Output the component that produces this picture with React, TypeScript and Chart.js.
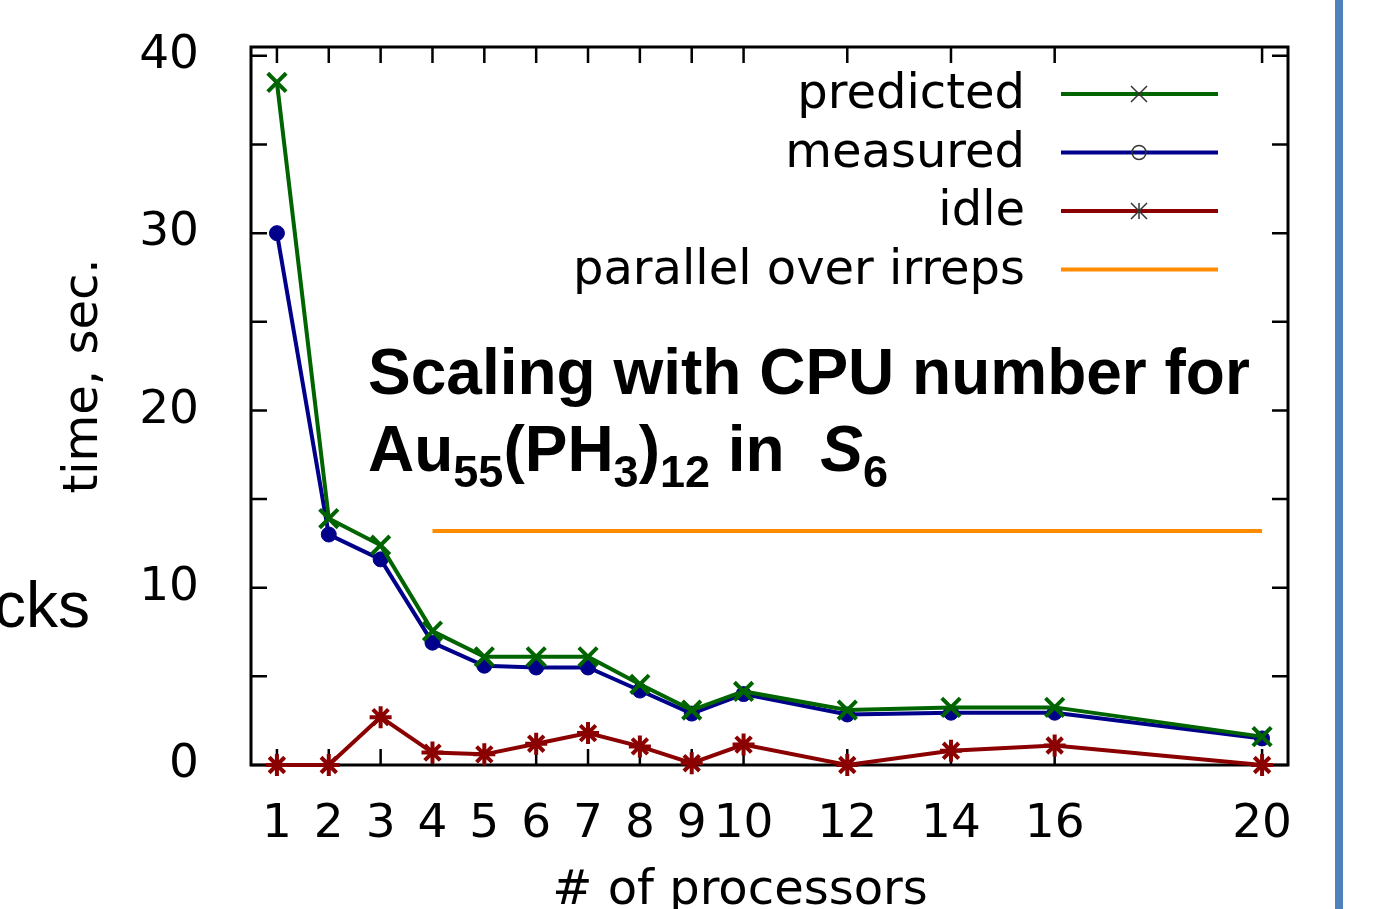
import React, { useEffect, useRef } from 'react';
import { Chart, registerables } from 'chart.js';

Chart.register(...registerables);

const processors = [1, 2, 3, 4, 5, 6, 7, 8, 9, 10, 12, 14, 16, 20];
const predicted = [38.5, 13.9, 12.4, 7.55, 6.1, 6.1, 6.1, 4.55, 3.1, 4.15, 3.1, 3.25, 3.25, 1.6];
const measured = [30.0, 13.0, 11.6, 6.9, 5.6, 5.5, 5.5, 4.2, 2.9, 4.0, 2.85, 2.95, 2.95, 1.5];
const idle = [0, 0, 2.7, 0.7, 0.6, 1.2, 1.8, 1.05, 0.1, 1.15, 0, 0.8, 1.1, 0];
const parallelX = [4, 20];
const parallelY = [13.2, 13.2];
const xTicks = [1, 2, 3, 4, 5, 6, 7, 8, 9, 10, 12, 14, 16, 20];
const yTicks = [0, 5, 10, 15, 20, 25, 30, 35, 40];
const yLabelled = [0, 10, 20, 30, 40];
const seriesNames = ['predicted', 'measured', 'idle', 'parallel over irreps'];
const seriesColors = ['#006400', '#00008b', '#8b0000', '#ff8c00'];
const legendMarkers = ['crossRot', 'circle', 'star', 'none'];
const xTitle = '# of processors';
const yTitle = 'time, sec.';

const FONT = '"DejaVu Sans", sans-serif';

const framePlugin = {
  id: 'gnuframe',
  beforeDatasetsDraw(chart: any) {
    const { ctx, chartArea: a, scales } = chart;
    ctx.save();
    ctx.strokeStyle = '#000';
    ctx.lineWidth = 2.5;
    const tl = 16;
    for (const v of xTicks) {
      const px = scales.x.getPixelForValue(v);
      ctx.beginPath();
      ctx.moveTo(px, a.bottom);
      ctx.lineTo(px, a.bottom - tl);
      ctx.moveTo(px, a.top);
      ctx.lineTo(px, a.top + tl);
      ctx.stroke();
    }
    for (const v of yTicks) {
      const py = scales.y.getPixelForValue(v);
      ctx.beginPath();
      ctx.moveTo(a.left, py);
      ctx.lineTo(a.left + tl, py);
      ctx.moveTo(a.right, py);
      ctx.lineTo(a.right - tl, py);
      ctx.stroke();
    }
    ctx.lineWidth = 3;
    ctx.strokeRect(a.left, a.top, a.right - a.left, a.bottom - a.top);
    ctx.restore();
  },
  afterDraw(chart: any) {
    const { ctx } = chart;
    ctx.save();
    ctx.fillStyle = '#000';
    ctx.font = `48px ${FONT}`;
    ctx.textAlign = 'center';
    ctx.textBaseline = 'alphabetic';
    ctx.fillText(xTitle, 740, 904);
    ctx.save();
    ctx.translate(97, 376);
    ctx.rotate(-Math.PI / 2);
    ctx.fillText(yTitle, 0, 0);
    ctx.restore();
    const textRight = 1025;
    const x0 = 1061;
    const x1 = 1218;
    const mx = 1139;
    for (let i = 0; i < seriesNames.length; i++) {
      const ly = 94 + i * 58.5;
      ctx.textAlign = 'right';
      ctx.fillStyle = '#000';
      ctx.fillText(seriesNames[i], textRight, ly + 14);
      ctx.strokeStyle = seriesColors[i];
      ctx.lineWidth = 4;
      ctx.beginPath();
      ctx.moveTo(x0, ly);
      ctx.lineTo(x1, ly);
      ctx.stroke();
      ctx.strokeStyle = '#333';
      ctx.lineWidth = 1.5;
      const m = legendMarkers[i];
      const r = 8;
      ctx.beginPath();
      if (m === 'crossRot' || m === 'star') {
        ctx.moveTo(mx - r, ly - r);
        ctx.lineTo(mx + r, ly + r);
        ctx.moveTo(mx - r, ly + r);
        ctx.lineTo(mx + r, ly - r);
      }
      if (m === 'star') {
        ctx.moveTo(mx, ly - r);
        ctx.lineTo(mx, ly + r);
      }
      if (m === 'circle') {
        ctx.arc(mx, ly, 7, 0, Math.PI * 2);
      }
      ctx.stroke();
    }
    ctx.restore();
  },
};

export default function App() {
  const ref = useRef<HTMLCanvasElement | null>(null);

  useEffect(() => {
    if (!ref.current) return;
    const pts = (ys: number[]) => processors.map((x, i) => ({ x, y: ys[i] }));
    const chart = new Chart(ref.current, {
      type: 'line',
      data: {
        datasets: [
          {
            label: seriesNames[0],
            data: pts(predicted),
            borderColor: seriesColors[0],
            backgroundColor: seriesColors[0],
            borderWidth: 4,
            pointStyle: 'crossRot',
            pointRadius: 13,
            pointBorderWidth: 4,
            pointBorderColor: seriesColors[0],
            clip: false,
          },
          {
            label: seriesNames[1],
            data: pts(measured),
            borderColor: seriesColors[1],
            backgroundColor: seriesColors[1],
            borderWidth: 4,
            pointStyle: 'circle',
            pointRadius: 7.5,
            pointBorderWidth: 1,
            pointBackgroundColor: seriesColors[1],
            pointBorderColor: seriesColors[1],
            clip: false,
          },
          {
            label: seriesNames[2],
            data: pts(idle),
            borderColor: seriesColors[2],
            backgroundColor: seriesColors[2],
            borderWidth: 4,
            pointStyle: 'star',
            pointRadius: 11,
            pointBorderWidth: 4,
            pointBorderColor: seriesColors[2],
            clip: false,
          },
          {
            label: seriesNames[3],
            data: parallelX.map((x, i) => ({ x, y: parallelY[i] })),
            borderColor: seriesColors[3],
            backgroundColor: seriesColors[3],
            borderWidth: 4,
            pointRadius: 0,
            clip: false,
          },
        ],
      },
      options: {
        responsive: false,
        animation: false,
        devicePixelRatio: 1,
        layout: { padding: { top: 47, right: 90, left: 0, bottom: 0 } },
        plugins: { legend: { display: false }, tooltip: { enabled: false } },
        elements: { line: { tension: 0 } },
        scales: {
          x: {
            type: 'linear',
            min: 0.5,
            max: 20.5,
            afterFit: (s: any) => {
              s.height = 144;
              s.paddingLeft = 0;
              s.paddingRight = 0;
            },
            afterBuildTicks: (s: any) => {
              s.ticks = xTicks.map((v) => ({ value: v }));
            },
            grid: { display: false },
            border: { display: false },
            ticks: {
              autoSkip: false,
              maxRotation: 0,
              padding: 24,
              color: '#000',
              font: { family: FONT, size: 47 },
              callback: (v: any) => String(v),
            },
          },
          y: {
            type: 'linear',
            min: 0,
            max: 40.5,
            afterFit: (s: any) => {
              s.width = 251;
              s.paddingTop = 0;
              s.paddingBottom = 0;
            },
            afterBuildTicks: (s: any) => {
              s.ticks = yTicks.map((v) => ({ value: v }));
            },
            grid: { display: false },
            border: { display: false },
            ticks: {
              padding: 44,
              color: '#000',
              font: { family: FONT, size: 47 },
              callback: (v: any) => (yLabelled.includes(Number(v)) ? String(v) : ''),
            },
          },
        },
      },
      plugins: [framePlugin],
    });
    return () => chart.destroy();
  }, []);

  const titleFont: React.CSSProperties = {
    position: 'absolute',
    fontFamily: '"Liberation Sans", Arial, sans-serif',
    fontWeight: 'bold',
    fontSize: 64,
    lineHeight: '64px',
    whiteSpace: 'nowrap',
    color: '#000',
  };
  const sub: React.CSSProperties = { fontSize: 45, position: 'relative', top: 16 };

  return (
    <div style={{ position: 'absolute', left: 0, top: 0, width: 1378, height: 909, background: '#fff', overflow: 'hidden' }}>
      <canvas ref={ref} width={1378} height={909} style={{ position: 'absolute', left: 0, top: 0, width: 1378, height: 909 }} />
      <div style={{ ...titleFont, left: 368, top: 340 }}>Scaling with CPU number for</div>
      <div style={{ ...titleFont, left: 368, top: 417 }}>
        Au<span style={sub}>55</span>(PH<span style={sub}>3</span>)<span style={sub}>12</span> in&nbsp;&nbsp;
        <span style={{ fontStyle: 'italic' }}>S</span>
        <span style={sub}>6</span>
      </div>
      <div
        style={{
          position: 'absolute',
          right: 1378 - 90,
          top: 573,
          fontFamily: '"Liberation Sans", Arial, sans-serif',
          fontSize: 64,
          lineHeight: '64px',
          whiteSpace: 'nowrap',
          color: '#000',
        }}
      >
        Blocks
      </div>
      <div style={{ position: 'absolute', left: 1335, top: 0, width: 8, height: 909, background: '#4f81bd' }} />
    </div>
  );
}
